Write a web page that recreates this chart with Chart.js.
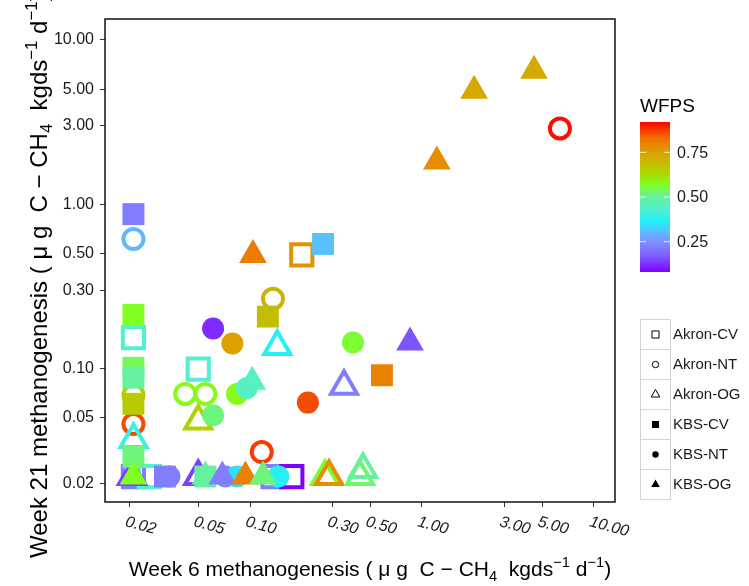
<!DOCTYPE html>
<html>
<head>
<meta charset="utf-8">
<script src="https://cdn.jsdelivr.net/npm/chart.js@4.4.1/dist/chart.umd.min.js"></script>
<style>
  html, body { margin: 0; padding: 0; background: #fff; }
  #plot { display: block; }
</style>
</head>
<body>
<canvas id="plot" width="749" height="586"></canvas>
<script>
// Week 6 vs week 21 methanogenesis by site/tillage, coloured by WFPS.
// Each point is [week 6 rate, week 21 rate, WFPS].
const seriesNames = ['Akron-CV', 'Akron-NT', 'Akron-OG', 'KBS-CV', 'KBS-NT', 'KBS-OG'];

const akronCV = [
  [0.021, 0.154, 0.43], [0.050, 0.099, 0.43], [0.200, 0.491, 0.77],
  [0.021, 0.022, 0.22], [0.026, 0.022, 0.43], [0.136, 0.022, 0.22],
  [0.175, 0.022, 0.08]
];
const akronNT = [
  [0.021, 0.614, 0.30], [0.021, 0.069, 0.66], [0.021, 0.046, 0.86],
  [0.042, 0.070, 0.58], [0.055, 0.070, 0.58], [0.136, 0.266, 0.71],
  [0.117, 0.031, 0.87], [6.34, 2.89, 0.91]
];
const akronOG = [
  [0.021, 0.037, 0.40], [0.050, 0.048, 0.65], [0.144, 0.136, 0.37],
  [0.352, 0.078, 0.22], [0.0206, 0.022, 0.14], [0.050, 0.022, 0.14],
  [0.273, 0.022, 0.56], [0.288, 0.022, 0.78], [0.436, 0.022, 0.53],
  [0.454, 0.0243, 0.50]
];
const kbsCV = [
  [0.021, 0.870, 0.22], [0.021, 0.212, 0.57], [0.021, 0.101, 0.54],
  [0.021, 0.088, 0.50], [0.021, 0.061, 0.66], [0.021, 0.029, 0.52],
  [0.127, 0.207, 0.69], [0.266, 0.573, 0.31], [0.585, 0.091, 0.80],
  [0.032, 0.022, 0.22], [0.055, 0.022, 0.50]
];
const kbsNT = [
  [0.061, 0.175, 0.12], [0.079, 0.142, 0.75], [0.061, 0.052, 0.52],
  [0.084, 0.070, 0.58], [0.096, 0.076, 0.45], [0.217, 0.062, 0.86],
  [0.397, 0.144, 0.56], [0.034, 0.022, 0.22], [0.072, 0.022, 0.24],
  [0.084, 0.022, 0.34], [0.146, 0.022, 0.37]
];
const kbsOG = [
  [0.021, 0.022, 0.57], [0.055, 0.022, 0.50], [0.069, 0.022, 0.22],
  [0.094, 0.022, 0.80], [0.119, 0.022, 0.52], [0.103, 0.083, 0.45],
  [0.104, 0.491, 0.81], [0.852, 0.144, 0.16], [1.22, 1.82, 0.78],
  [2.01, 4.91, 0.73], [4.48, 6.49, 0.73]
];

const xTicks = [0.02, 0.05, 0.1, 0.3, 0.5, 1, 3, 5, 10];
const yTicks = [0.02, 0.05, 0.1, 0.3, 0.5, 1, 3, 5, 10];
const wfpsTicks = [0.25, 0.5, 0.75];

// rainbow ramp for WFPS (value stops and colours)
const wfpsStops = [0.08, 0.17, 0.25, 0.31, 0.36, 0.43, 0.50, 0.57, 0.64, 0.75, 0.83, 0.92];
const wfpsColors = ['#7f00ff', '#7f5fff', '#8090ff', '#58c0ff', '#20f0f8', '#50f0d0',
                    '#66f0a0', '#80ff20', '#b0d400', '#dca000', '#f07000', '#ff0000'];

const FONT = '"Liberation Sans", Arial, sans-serif';

function hexRgb(h) {
  const n = parseInt(h.slice(1), 16);
  return [(n >> 16) & 255, (n >> 8) & 255, n & 255];
}

function wfpsColor(v) {
  const last = wfpsStops.length - 1;
  const t = Math.min(Math.max(v, wfpsStops[0]), wfpsStops[last]);
  let i = 0;
  while (i < last - 1 && t > wfpsStops[i + 1]) i++;
  const f = (t - wfpsStops[i]) / (wfpsStops[i + 1] - wfpsStops[i]);
  const a = hexRgb(wfpsColors[i]), b = hexRgb(wfpsColors[i + 1]);
  const c = a.map((x, k) => Math.round(x + (b[k] - x) * f));
  return `rgb(${c[0]},${c[1]},${c[2]})`;
}

// marker per series: open shapes for Akron, filled for KBS
const markers = [
  { style: 'rect', open: true, radius: 15 },
  { style: 'circle', open: true, radius: 10 },
  { style: 'triangle', open: true, radius: 15 },
  { style: 'rect', open: false, radius: 15.5 },
  { style: 'circle', open: false, radius: 11 },
  { style: 'triangle', open: false, radius: 16 }
];

const seriesData = [akronCV, akronNT, akronOG, kbsCV, kbsNT, kbsOG];

const datasets = seriesData.map((pts, i) => {
  const m = markers[i];
  return {
    label: seriesNames[i],
    data: pts.map(p => ({ x: p[0], y: p[1], w: p[2] })),
    order: seriesData.length - i,
    pointStyle: m.style,
    pointRadius: m.radius,
    pointBorderWidth: m.open ? 4 : 0,
    pointBackgroundColor: ctx => m.open ? 'rgba(0,0,0,0)' : wfpsColor(ctx.raw.w),
    pointBorderColor: ctx => wfpsColor(ctx.raw.w)
  };
});

// axis titles with sub/superscripts: [text, 0 normal | -1 sub | 1 sup]
const xTitle = [['Week 6 methanogenesis ( \u03bc g  C \u2212 CH', 0], ['4', -1], ['  kgds', 0],
                ['\u22121', 1], [' d', 0], ['\u22121', 1], [')', 0]];
const yTitle = [['Week 21 methanogenesis ( \u03bc g  C \u2212 CH', 0], ['4', -1], ['  kgds', 0],
                ['\u22121', 1], [' d', 0], ['\u22121', 1], [')', 0]];

function richWidth(ctx, parts, size) {
  let w = 0;
  for (const [t, pos] of parts) {
    ctx.font = `${pos ? size * 0.7 : size}px ${FONT}`;
    w += ctx.measureText(t).width;
  }
  return w;
}

function drawRich(ctx, parts, x, y, size) {
  let cx = x;
  for (const [t, pos] of parts) {
    ctx.font = `${pos ? size * 0.7 : size}px ${FONT}`;
    const dy = pos > 0 ? -size * 0.42 : pos < 0 ? size * 0.22 : 0;
    ctx.fillText(t, cx, y + dy);
    cx += ctx.measureText(t).width;
  }
}

const decorations = {
  id: 'decorations',
  afterDatasetsDraw(chart) {
    const { ctx, chartArea: a } = chart;
    ctx.save();
    ctx.strokeStyle = '#111';
    ctx.lineWidth = 1.5;
    ctx.strokeRect(a.left, a.top, a.right - a.left, a.bottom - a.top);
    ctx.restore();
  },
  afterDraw(chart) {
    const { ctx, chartArea: a } = chart;
    const xs = chart.scales.x;
    ctx.save();
    ctx.fillStyle = '#1a1a1a';

    // slanted italic x tick labels
    ctx.font = `italic 16px ${FONT}`;
    ctx.textAlign = 'left';
    ctx.textBaseline = 'top';
    xTicks.forEach(v => {
      const px = xs.getPixelForValue(v);
      ctx.save();
      ctx.translate(px - 2, a.bottom + 12);
      ctx.rotate(15 * Math.PI / 180);
      ctx.fillText(v.toFixed(2), 0, 0);
      ctx.restore();
    });

    // axis titles
    ctx.fillStyle = '#000';
    ctx.textBaseline = 'alphabetic';
    const xSize = 21;
    const xw = richWidth(ctx, xTitle, xSize);
    drawRich(ctx, xTitle, 370 - xw / 2, 576, xSize);

    const ySize = 24;
    ctx.save();
    ctx.translate(47, 558);
    ctx.rotate(-Math.PI / 2);
    drawRich(ctx, yTitle, 0, 0, ySize);
    ctx.restore();

    // WFPS colour bar
    const barX = 640, barW = 30, barTop = 122, barBot = 272;
    const lo = wfpsStops[0], hi = wfpsStops[wfpsStops.length - 1];
    const grad = ctx.createLinearGradient(0, barBot, 0, barTop);
    wfpsStops.forEach((s, k) => grad.addColorStop((s - lo) / (hi - lo), wfpsColors[k]));
    ctx.fillStyle = grad;
    ctx.fillRect(barX, barTop, barW, barBot - barTop);
    ctx.font = `19px ${FONT}`;
    ctx.fillStyle = '#000';
    ctx.textAlign = 'left';
    ctx.fillText('WFPS', barX, 112);
    ctx.font = `16px ${FONT}`;
    ctx.textBaseline = 'middle';
    ctx.strokeStyle = 'rgba(255,255,255,0.8)';
    ctx.lineWidth = 1;
    wfpsTicks.forEach(v => {
      const py = barBot - (v - lo) / (hi - lo) * (barBot - barTop);
      ctx.beginPath();
      ctx.moveTo(barX, py); ctx.lineTo(barX + 6, py);
      ctx.moveTo(barX + barW - 6, py); ctx.lineTo(barX + barW, py);
      ctx.stroke();
      ctx.fillStyle = '#1a1a1a';
      ctx.fillText(v.toFixed(2), barX + barW + 7, py + 1);
    });

    // shape legend
    const keyX = 640, keyTop = 319, keyH = 30;
    ctx.font = `15px ${FONT}`;
    seriesNames.forEach((name, k) => {
      const ky = keyTop + k * keyH;
      ctx.strokeStyle = '#d4d4d4';
      ctx.lineWidth = 1;
      ctx.strokeRect(keyX + 0.5, ky + 0.5, keyH, keyH);
      const m = markers[k];
      ctx.fillStyle = m.open ? 'rgba(0,0,0,0)' : '#000';
      ctx.strokeStyle = '#000';
      const r = m.style === 'circle' ? 3.2 : 5;
      Chart.helpers.drawPoint(ctx, { pointStyle: m.style, radius: r, borderWidth: m.open ? 1 : 0, rotation: 0 },
        keyX + keyH / 2 + 0.5, ky + keyH / 2 + 0.5);
      ctx.fillStyle = '#1a1a1a';
      ctx.fillText(name, keyX + keyH + 3, ky + keyH / 2 + 1);
    });
    ctx.restore();
  }
};

new Chart(document.getElementById('plot'), {
  type: 'scatter',
  data: { datasets },
  options: {
    responsive: false,
    devicePixelRatio: 1,
    animation: false,
    events: [],
    layout: { padding: { top: 17, right: 134, left: 0, bottom: 0 } },
    plugins: { legend: { display: false }, tooltip: { enabled: false } },
    scales: {
      x: {
        type: 'logarithmic',
        min: 0.01435,
        max: 13.25,
        bounds: 'data',
        afterBuildTicks: s => { s.ticks = xTicks.map(v => ({ value: v })); },
        afterFit: s => { s.height = 84; },
        grid: { drawOnChartArea: false, tickLength: 5, color: '#333' },
        border: { display: false },
        ticks: { display: false }
      },
      y: {
        type: 'logarithmic',
        min: 0.0154,
        max: 13.4,
        bounds: 'data',
        afterBuildTicks: s => { s.ticks = yTicks.map(v => ({ value: v })); },
        afterFit: s => { s.width = 105; },
        grid: { drawOnChartArea: false, tickLength: 5, color: '#333' },
        border: { display: false },
        ticks: {
          autoSkip: false,
          padding: 6,
          color: '#1a1a1a',
          font: { family: FONT, size: 16 },
          callback: v => Number(v).toFixed(2)
        }
      }
    }
  },
  plugins: [decorations]
});
</script>
</body>
</html>
